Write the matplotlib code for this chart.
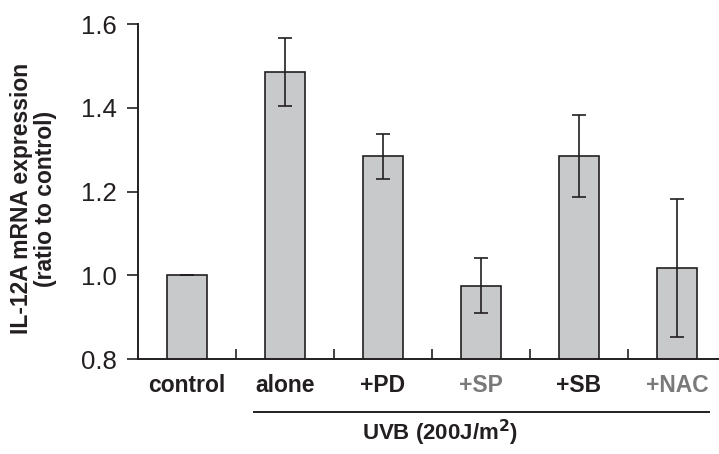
import matplotlib
matplotlib.use("Agg")
import matplotlib.pyplot as plt
import matplotlib.transforms as mtransforms

plt.rcParams["font.family"] = ["Liberation Sans", "DejaVu Sans"]

# Data
categories = ["control", "alone", "+PD", "+SP", "+SB", "+NAC"]
values = [1.0, 1.486, 1.284, 0.975, 1.286, 1.017]
errors = [0.0, 0.081, 0.054, 0.066, 0.098, 0.165]
label_colors = ["#231f20", "#231f20", "#231f20", "#7a7a7a", "#231f20", "#7a7a7a"]
yticks = [0.8, 1.0, 1.2, 1.4, 1.6]

bar_color = "#c8c9cb"
edge_color = "#231f20"

fig = plt.figure(figsize=(7.19, 4.54), dpi=100)
ax = fig.add_axes([0.192, 0.209, 0.808, 0.738])

x = list(range(len(categories)))
ax.bar(x, values, width=0.41, color=bar_color, edgecolor=edge_color, linewidth=1.2)
ax.errorbar(x, values, yerr=errors, fmt="none", ecolor=edge_color,
            elinewidth=1.2, capsize=5, capthick=1.2)

ax.set_ylim(0.8, 1.6)
ax.set_xlim(-0.5, 5.43)
ax.set_yticks(yticks)
ax.set_yticklabels([f"{t:.1f}" for t in yticks], fontsize=18.5, color="#231f20")

# category labels, some in grey
ax.set_xticks(x)
ax.set_xticklabels(categories, fontsize=16.5, fontweight="bold")
for lbl, c in zip(ax.get_xticklabels(), label_colors):
    lbl.set_color(c)
ax.tick_params(axis="x", which="major", length=0, pad=11)
ax.set_xticks([i + 0.5 for i in x[:-1]], minor=True)
ax.tick_params(axis="x", which="minor", direction="in", length=7, width=1.2,
               color=edge_color)
ax.tick_params(axis="y", direction="out", length=8, width=1.2, color=edge_color, pad=7)

for side in ["top", "right"]:
    ax.spines[side].set_visible(False)
for side in ["left", "bottom"]:
    ax.spines[side].set_linewidth(1.4)
    ax.spines[side].set_color(edge_color)

ax.set_ylabel("IL-12A mRNA expression\n(ratio to control)", fontsize=16.5,
              fontweight="bold", color="#231f20", linespacing=1.05)
ax.yaxis.set_label_coords(-0.139, 0.479)

# UVB bracket under the treated groups
trans = mtransforms.blended_transform_factory(ax.transData, ax.transAxes)
ax.plot([0.68, 5.33], [-0.157, -0.157], color=edge_color, lw=1.4,
        transform=trans, clip_on=False)
ax.text(2.58, -0.22, "UVB (200J/m$^{\\mathbf{2}}$)", transform=trans,
        ha="center", va="center", fontsize=16, fontweight="bold", color="#231f20")

fig.savefig("out.png", dpi=100)
